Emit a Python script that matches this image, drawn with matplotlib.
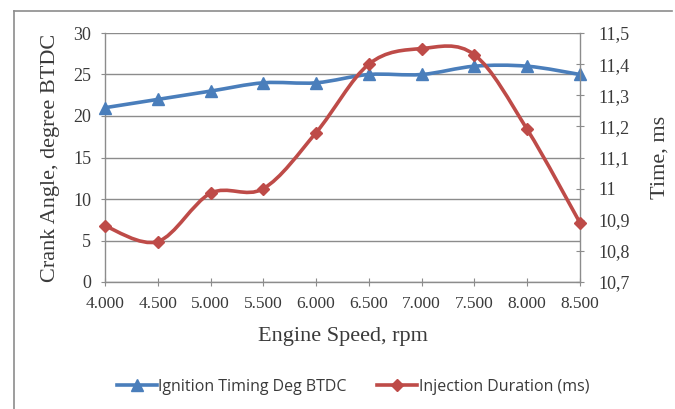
import matplotlib
matplotlib.use("Agg")
import matplotlib.pyplot as plt
import numpy as np
from matplotlib.path import Path
from matplotlib.patches import PathPatch
from matplotlib.lines import Line2D

rpm = [4000, 4500, 5000, 5500, 6000, 6500, 7000, 7500, 8000, 8500]
rpm_labels = ["4.000", "4.500", "5.000", "5.500", "6.000",
              "6.500", "7.000", "7.500", "8.000", "8.500"]
ignition = [21, 22, 23, 24, 24, 25, 25, 26, 26, 25]
injection = [10.88, 10.83, 10.985, 11.0, 11.18, 11.40, 11.45, 11.43, 11.19, 10.89]
left_ticks = [0, 5, 10, 15, 20, 25, 30]
right_ticks = [10.7, 10.8, 10.9, 11.0, 11.1, 11.2, 11.3, 11.4, 11.5]
right_labels = ["10,7", "10,8", "10,9", "11", "11,1", "11,2", "11,3", "11,4", "11,5"]

blue = "#4a7ebb"
red = "#be4b48"
serif = "Liberation Serif"
txt = "#3a3a3a"


def smooth_path(x, y):
    # Excel-style smoothed line: cubic bezier through the points
    x = np.asarray(x, float)
    y = np.asarray(y, float)
    verts = [(x[0], y[0])]
    codes = [Path.MOVETO]
    n = len(x)
    for i in range(n - 1):
        p0 = i - 1 if i > 0 else i
        p3 = i + 2 if i + 2 < n else i + 1
        c1 = (x[i] + (x[i + 1] - x[p0]) / 6, y[i] + (y[i + 1] - y[p0]) / 6)
        c2 = (x[i + 1] - (x[p3] - x[i]) / 6, y[i + 1] - (y[p3] - y[i]) / 6)
        verts += [c1, c2, (x[i + 1], y[i + 1])]
        codes += [Path.CURVE4] * 3
    return Path(verts, codes)


fig = plt.figure(figsize=(6.75, 4.09), dpi=100)
# outer chart frame: top and left edges only are visible
fig.add_artist(Line2D([14 / 675, 14 / 675], [0, 1 - 11 / 409],
                      transform=fig.transFigure, color="#8c8c8c", linewidth=1.2))
fig.add_artist(Line2D([14 / 675, 672 / 675], [1 - 11 / 409, 1 - 11 / 409],
                      transform=fig.transFigure, color="#8c8c8c", linewidth=1.2))

ax = fig.add_axes([105 / 675, 127 / 409, 475 / 675, 249 / 409])
ax2 = ax.twinx()

ax.set_xlim(4000, 8500)
ax.set_ylim(0, 30)
ax2.set_ylim(10.7, 11.5)

ax.set_yticks(left_ticks)
ax.set_yticklabels([str(t) for t in left_ticks], family=serif, fontsize=13)
ax.set_xticks(rpm)
ax.set_xticklabels(rpm_labels, family=serif, fontsize=12.5)
ax2.set_yticks(right_ticks)
ax2.set_yticklabels(right_labels, family=serif, fontsize=13)

ax.grid(axis="y", color="#8c8c8c", linewidth=1.0)
ax.set_axisbelow(True)
for a in (ax, ax2):
    for s in a.spines.values():
        s.set_visible(False)
ax.spines["left"].set_visible(True)
ax.spines["bottom"].set_visible(True)
ax2.spines["right"].set_visible(True)
for s in (ax.spines["left"], ax.spines["bottom"], ax2.spines["right"]):
    s.set_color("#8c8c8c")
    s.set_linewidth(1.0)
ax.tick_params(axis="y", color="#8c8c8c", length=3, colors=txt, pad=7)
ax.tick_params(axis="x", direction="inout", length=6, color="#8c8c8c", colors=txt, pad=7)
ax2.tick_params(axis="y", direction="inout", color="#8c8c8c", length=6, colors=txt, pad=10)

ax.set_xlabel("Engine Speed, rpm", family=serif, fontsize=16, color=txt, labelpad=11)
ax.set_ylabel("Crank Angle, degree BTDC", family=serif, fontsize=16, color=txt, labelpad=9)
ax2.set_ylabel("Time, ms", family=serif, fontsize=16, color=txt, labelpad=15)

ax.add_patch(PathPatch(smooth_path(rpm, ignition), fill=False, edgecolor=blue,
                       linewidth=2.6, zorder=3))
ax.plot(rpm, ignition, linestyle="none", marker="^", markersize=9, color=blue,
        zorder=4, clip_on=False)
ax2.add_patch(PathPatch(smooth_path(rpm, injection), fill=False, edgecolor=red,
                        linewidth=2.6, zorder=3))
ax2.plot(rpm, injection, linestyle="none", marker="D", markersize=6.5, color=red,
         zorder=4, clip_on=False)

handles = [Line2D([], [], color=blue, linewidth=2.6, marker="^", markersize=8),
           Line2D([], [], color=red, linewidth=2.6, marker="D", markersize=6)]
fig.legend(handles, ["Ignition Timing Deg BTDC", "Injection Duration (ms)"],
           loc="center", bbox_to_anchor=(353 / 675, 1 - 387 / 409), ncol=2,
           frameon=False, prop={"family": "Open Sans", "size": 11.5},
           handlelength=2.5, handletextpad=0.1, columnspacing=1.9,
           labelcolor=txt)

fig.savefig("out.png", dpi=100)
